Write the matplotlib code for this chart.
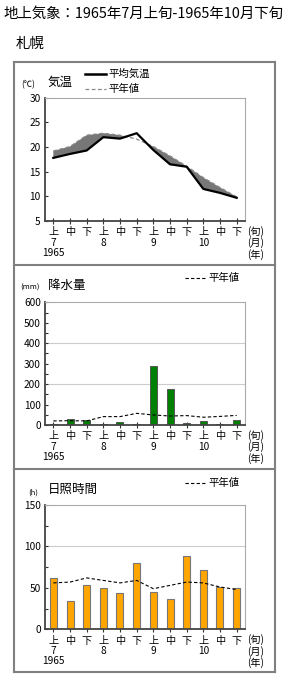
import matplotlib
matplotlib.use("Agg")
import matplotlib.pyplot as plt
from matplotlib.lines import Line2D
import numpy as np

plt.rcParams['font.family'] = ['Noto Sans CJK JP', 'DejaVu Sans']

# ---------------- data ----------------
periods = ["上", "中", "下", "上", "中", "下", "上", "中", "下", "上", "中", "下"]
months = ["7", "", "", "8", "", "", "9", "", "", "10", "", ""]
years = ["1965", "", "", "", "", "", "", "", "", "", "", ""]

temp_actual = [17.8, 18.6, 19.3, 22.0, 21.7, 22.8, 19.4, 16.5, 16.0, 11.5, 10.7, 9.7]
temp_normal = [19.2, 20.1, 22.4, 22.8, 22.4, 21.6, 20.1, 18.2, 16.1, 13.8, 11.8, 9.9]

precip = [5, 29, 24, 6, 15, 6, 290, 178, 10, 20, 6, 24]
precip_normal = [20, 21, 20, 41, 41, 57, 49, 44, 46, 38, 42, 47]

sun = [62, 34, 53, 50, 44, 80, 45, 36, 88, 72, 51, 50]
sun_normal = [56, 57, 62, 59, 56, 59, 49, 53, 57, 56, 51, 48]

W, H = 290, 678
fig = plt.figure(figsize=(W / 100, H / 100), dpi=100)

def rect(x0, y0, x1, y1):
    return [x0 / W, 1 - y1 / H, (x1 - x0) / W, (y1 - y0) / H]

def fx(x):
    return x / W

def fy(y):
    return 1 - y / H

# title texts
fig.text(fx(3), fy(14), "地上気象：1965年7月上旬-1965年10月下旬", fontsize=10.4,
         ha="left", va="center")
fig.text(fx(16), fy(44), "札幌", fontsize=10.4, ha="left", va="center")

# panel frames
fcol = "#808080"
for yy in [62, 265, 469, 672]:
    fig.add_artist(Line2D([fx(14), fx(275)], [fy(yy), fy(yy)], color=fcol, lw=1.5))
for xx in [14, 275]:
    fig.add_artist(Line2D([fx(xx), fx(xx)], [fy(62), fy(672)], color=fcol, lw=1.5))

x = np.arange(12)
labels = []
for p, m, yv in zip(periods, months, years):
    s = p
    if m:
        s += "\n" + m
    if yv:
        s += "\n" + yv
    labels.append(s)

def style_axis(ax, ylim, major, minor=None):
    ax.set_xlim(-0.5, 11.5)
    ax.set_ylim(*ylim)
    ax.set_yticks(major)
    ax.set_yticklabels([str(v) for v in major])
    if minor is not None:
        ax.set_yticks(minor, minor=True)
    ax.set_xticks(x)
    ax.set_xticklabels(labels, linespacing=1.05)
    ax.tick_params(axis="x", direction="inout", length=5, width=0.8, pad=2,
                   labelsize=7.3, color="#333333")
    ax.tick_params(axis="y", which="both", direction="in", length=2.5, width=0.8,
                   pad=3, labelsize=7.3, color="#333333")
    for s in ["top", "right"]:
        ax.spines[s].set_color("#aaaaaa")
        ax.spines[s].set_linewidth(0.8)
    for s in ["left", "bottom"]:
        ax.spines[s].set_color("#444444")
        ax.spines[s].set_linewidth(1.3)

def right_labels(ybottom):
    fig.text(fx(256), fy(ybottom + 5), "(旬)\n(月)\n(年)", fontsize=7.3, ha="center",
             va="top", linespacing=1.05)

# ---------------- panel 1: temperature ----------------
ax1 = fig.add_axes(rect(45, 97.7, 245, 221))
ta = np.array(temp_actual)
tn = np.array(temp_normal)
ax1.fill_between(x, ta, tn, where=tn > ta, interpolate=True, color="#777777", lw=0)
ax1.plot(x, tn, color="#888888", lw=0.9, ls=(0, (3, 2)))
ax1.plot(x, ta, color="black", lw=1.6)
style_axis(ax1, (5, 30), [5, 10, 15, 20, 25, 30])
right_labels(221)
fig.text(fx(28), fy(85), "(℃)", fontsize=6, ha="center", va="center")
fig.text(fx(48), fy(82), "気温", fontsize=9, ha="left", va="center")
fig.add_artist(Line2D([fx(85), fx(106)], [fy(74), fy(74)], color="black", lw=1.8))
fig.text(fx(108), fy(74), "平均気温", fontsize=7.5, ha="left", va="center")
fig.add_artist(Line2D([fx(85), fx(106)], [fy(89), fy(89)], color="#888888", lw=0.9,
                      ls=(0, (3, 2))))
fig.text(fx(108), fy(89), "平年値", fontsize=7.5, ha="left", va="center")

# ---------------- panel 2: precipitation ----------------
ax2 = fig.add_axes(rect(45, 302.3, 245, 425))
for g in [200, 400]:
    ax2.axhline(g, color="#cccccc", lw=0.8, zorder=0)
ax2.bar(x, precip, width=0.42, color="#008000", edgecolor="#555555", lw=0.7, zorder=2)
ax2.plot(x, precip_normal, color="black", lw=0.8, ls=(0, (3, 2)), zorder=3)
style_axis(ax2, (0, 600), [0, 100, 200, 300, 400, 500, 600],
           minor=list(range(50, 600, 100)))
right_labels(425)
fig.text(fx(30), fy(288), "(mm)", fontsize=5.5, ha="center", va="center")
fig.text(fx(48), fy(285), "降水量", fontsize=9, ha="left", va="center")
fig.add_artist(Line2D([fx(185), fx(206)], [fy(278), fy(278)], color="black", lw=0.8,
                      ls=(0, (3, 2))))
fig.text(fx(208), fy(278), "平年値", fontsize=7.5, ha="left", va="center")

# ---------------- panel 3: sunshine ----------------
ax3 = fig.add_axes(rect(45, 505, 245, 629.3))
ax3.axhline(100, color="#cccccc", lw=0.8, zorder=0)
ax3.bar(x, sun, width=0.42, color="#FFA500", edgecolor="#777777", lw=0.8, zorder=2)
ax3.plot(x, sun_normal, color="black", lw=0.8, ls=(0, (3, 2)), zorder=3)
style_axis(ax3, (0, 150), [0, 50, 100, 150], minor=[25, 75, 125])
right_labels(629.3)
fig.text(fx(33), fy(493), "(h)", fontsize=5.5, ha="center", va="center")
fig.text(fx(48), fy(489), "日照時間", fontsize=9, ha="left", va="center")
fig.add_artist(Line2D([fx(185), fx(206)], [fy(483), fy(483)], color="black", lw=0.8,
                      ls=(0, (3, 2))))
fig.text(fx(208), fy(483), "平年値", fontsize=7.5, ha="left", va="center")

fig.savefig("out.png", dpi=100)
